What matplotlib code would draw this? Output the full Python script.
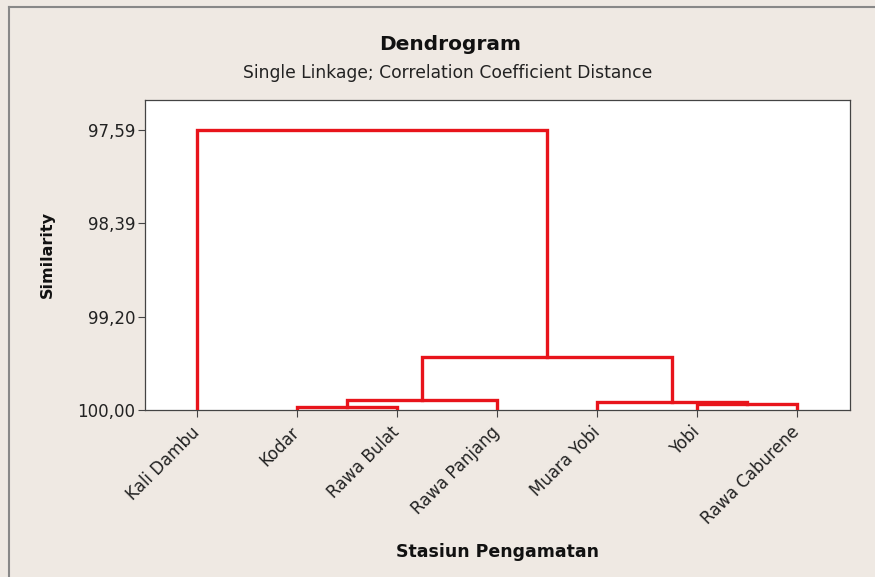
import matplotlib
matplotlib.use("Agg")
import matplotlib.pyplot as plt
from matplotlib.lines import Line2D

# Stations (leaves) in the dendrogram order
stations = ["Kali Dambu", "Kodar", "Rawa Bulat", "Rawa Panjang",
            "Muara Yobi", "Yobi", "Rawa Caburene"]

# Merge steps: cluster a, cluster b, similarity level
# leaves are 0..6, new clusters get ids 7, 8, ...
merge_a = [1, 5, 4, 7, 10, 0]
merge_b = [2, 6, 8, 3, 9, 11]
merge_sim = [99.975, 99.95, 99.93, 99.915, 99.545, 97.59]

tick_vals = [97.59, 98.39, 99.20, 100.00]
tick_labels = ["97,59", "98,39", "99,20", "100,00"]

bg = "#efe9e3"
red = "#e8141b"

fig = plt.figure(figsize=(8.75, 5.77), dpi=100, facecolor=bg)
ax = fig.add_axes([145 / 875, 1 - 410 / 577, 705 / 875, 310 / 577])
ax.set_facecolor("white")

# positions and heights of every node
xpos = {i: i + 1 for i in range(len(stations))}
height = {i: 100.0 for i in range(len(stations))}

for k, (a, b, s) in enumerate(zip(merge_a, merge_b, merge_sim)):
    new_id = len(stations) + k
    ax.plot([xpos[a], xpos[a], xpos[b], xpos[b]],
            [height[a], s, s, height[b]],
            color=red, lw=2.4, solid_joinstyle="miter", zorder=3)
    xpos[new_id] = (xpos[a] + xpos[b]) / 2
    height[new_id] = s

ax.set_xlim(0.48, 7.53)
ax.set_ylim(100.0, 97.33)

ax.set_yticks(tick_vals)
ax.set_yticklabels(tick_labels)
ax.set_xticks(range(1, len(stations) + 1))
ax.set_xticklabels(stations, rotation=45, ha="right", va="center",
                   rotation_mode="anchor")

ax.tick_params(axis="both", direction="out", length=5, width=0.8,
               color="#444444", labelsize=12, labelcolor="#222222", pad=2)
ax.tick_params(axis="x", pad=9)
for sp in ax.spines.values():
    sp.set_color("#444444")
    sp.set_linewidth(0.9)

ax.set_xlabel("Stasiun Pengamatan", fontsize=12.5, fontweight="bold",
              color="#111111", labelpad=11)
ax.set_ylabel("Similarity", fontsize=11.5, fontweight="bold",
              color="#111111", labelpad=16)

fig.text(450 / 875, 1 - 45 / 577, "Dendrogram", ha="center", va="center",
         fontsize=14.5, fontweight="bold", color="#111111")
fig.text(448 / 875, 1 - 73 / 577, "Single Linkage; Correlation Coefficient Distance",
         ha="center", va="center", fontsize=12.3, color="#222222")

# outer frame lines (left and top)
fig.add_artist(Line2D([9 / 875, 9 / 875], [0, 1 - 7 / 577],
                      transform=fig.transFigure, color="#888888", lw=1.5))
fig.add_artist(Line2D([9 / 875, 1], [1 - 7 / 577, 1 - 7 / 577],
                      transform=fig.transFigure, color="#888888", lw=1.5))

fig.savefig("out.png", dpi=100, facecolor=bg)
